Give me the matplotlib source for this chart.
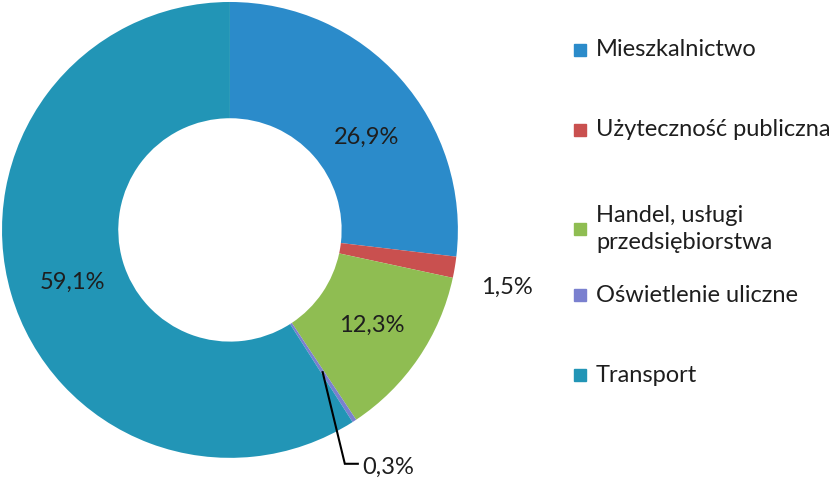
import numpy as np
import matplotlib.pyplot as plt
from matplotlib.patches import Rectangle

plt.rcParams['font.family'] = ['Lato', 'DejaVu Sans']

# data
categories = ['Mieszkalnictwo', 'Użyteczność publiczna', 'Handel, usługi\nprzedsiębiorstwa',
              'Oświetlenie uliczne', 'Transport']
shares = [26.9, 1.5, 12.3, 0.3, 59.1]
labels = ['26,9%', '1,5%', '12,3%', '0,3%', '59,1%']
colors = ['#2b8bca', '#c9504f', '#8fbd52', '#7a80cf', '#2295b6']

fig = plt.figure(figsize=(8.38, 4.78), dpi=100)
ax = fig.add_axes([0.0024, 0.042, 0.544, 0.954])

wedges, _ = ax.pie(shares, colors=colors, startangle=90, counterclock=False,
                   radius=1.0, wedgeprops=dict(width=0.51, edgecolor='none'))
ax.set_xlim(-1, 1)
ax.set_ylim(-1, 1)
ax.set_aspect('equal')

txt = dict(fontsize=17, color='#1e1e1e', ha='center', va='center')
ax.text(0.601, 0.404, labels[0], **txt)
ax.text(1.217, -0.25, labels[1], clip_on=False, **txt)
ax.text(0.623, -0.417, labels[2], **txt)
ax.text(-0.693, -0.232, labels[4], **txt)

# leader line for the small slice
w = wedges[3]
ang = np.deg2rad((w.theta1 + w.theta2) / 2)
xy = (0.745 * np.cos(ang), 0.745 * np.sin(ang))
ax.plot([xy[0], 0.504, 0.561], [xy[1], -1.026, -1.026], color='black', lw=1.5,
        clip_on=False, solid_joinstyle='miter')
ax.text(0.58, -1.04, labels[3], fontsize=17, color='#1e1e1e', ha='left', va='center',
        clip_on=False)

# legend drawn by hand (uneven spacing in original)
leg_y = [50, 130, 229, 295, 375]
for cat, col, y in zip(categories, colors, leg_y):
    yf = 1 - y / 478
    fig.patches.append(Rectangle((574 / 838, yf - 6 / 478), 12 / 838, 12 / 478,
                                 transform=fig.transFigure, color=col))
    fig.text(596 / 838, yf, cat, fontsize=17, color='#1e1e1e', ha='left', va='center',
             linespacing=1.35)

fig.savefig('out.png', dpi=100)
